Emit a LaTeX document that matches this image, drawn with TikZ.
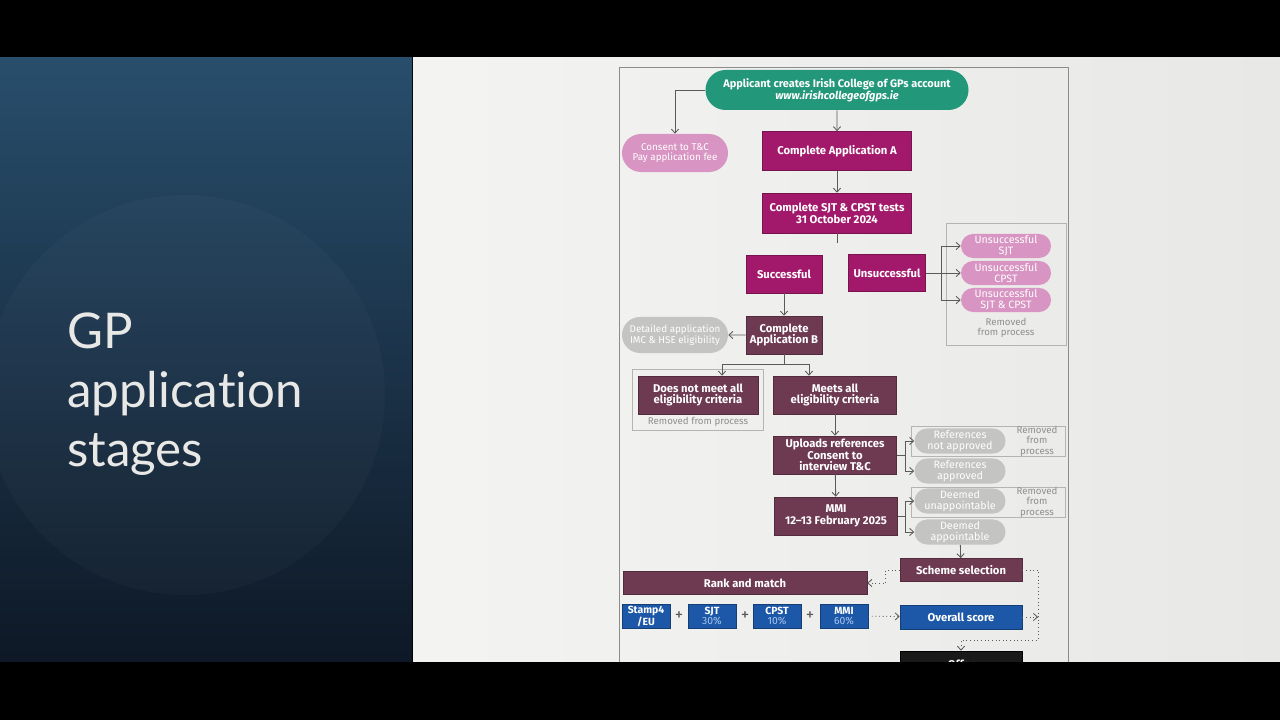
\documentclass[tikz,border=0pt]{standalone}
\usepackage{fontspec}
\setmainfont{Fira Sans}
\newfontfamily\titlefont[Ligatures=NoCommon]{Lato}
\usetikzlibrary{positioning,arrows.meta,shapes.misc}
\definecolor{plum}{HTML}{6E3A52}
\definecolor{magbox}{HTML}{A2196B}
\definecolor{pinkpill}{HTML}{D894C2}
\definecolor{greypill}{HTML}{C4C4C2}
\definecolor{tealpill}{HTML}{22977A}
\definecolor{bluebox}{HTML}{1D58A8}
\definecolor{paleblue}{HTML}{A8C6EE}
\definecolor{linegrey}{HTML}{5A5A5A}
\definecolor{framegrey}{HTML}{B4B4B2}
\definecolor{removedgrey}{HTML}{8E8E8C}
\definecolor{screen}{HTML}{E8E8E6}

\begin{document}
\begin{tikzpicture}[x=0.025cm,y=-0.025cm,
box/.style={draw=magbox!75!black,fill=magbox,text=white,align=center,inner sep=0pt,
font=\fontsize{8}{8.4}\selectfont\bfseries,minimum width=3.725cm,minimum height=0.975cm},
plumbox/.style={box,draw=plum!75!black,fill=plum},
pill/.style={rounded rectangle,fill=pinkpill,text=white,align=center,inner sep=0pt,
font=\fontsize{7.6}{7.8}\selectfont,minimum width=2.25cm,minimum height=0.6cm},
greypill/.style={pill,fill=greypill},
bluebox/.style={box,draw=bluebox!70!black,fill=bluebox,minimum width=1.19cm,minimum height=0.6cm,
font=\fontsize{7.4}{7.6}\selectfont\bfseries},
removed/.style={text=removedgrey,align=center,font=\fontsize{6.9}{7.4}\selectfont},
frame/.style={draw=framegrey,line width=0.5pt},
flow/.style={-{Straight Barb[length=1mm,width=1.8mm]},draw=linegrey,line width=0.6pt},
dotflow/.style={flow,dotted}]
% screen and slide
\useasboundingbox (0,0) rectangle (1280,720);
\fill[black] (0,0) rectangle (1280,720);
\shade[top color={rgb,255:red,40;green,78;blue,108},middle color={rgb,255:red,28;green,86;blue,132},
bottom color={rgb,255:red,14;green,24;blue,38}] (0,58) rectangle (412,662);
\fill[white,opacity=0.025] (185,395) circle (200);
\shade[left color=screen!50!white,right color=screen] (413,58) rectangle (1280,662);
\node[anchor=north west,inner sep=0pt,align=left,text={rgb,255:red,232;green,232;blue,230},
font=\titlefont\fontsize{35}{41.8}\selectfont] (title) at (67,313) {GP\\application\\stages};
\draw[draw=black!45,line width=0.6pt] (619,67) rectangle (1068,680);

% top of the chart
\node[pill,fill=tealpill,minimum width=6.575cm,minimum height=1cm,font=\fontsize{7.8}{8.6}\selectfont\bfseries]
  (account) at (837,90) {Applicant creates Irish College of GPs account\\\itshape www.irishcollegeofgps.ie};
\node[pill,minimum width=2.65cm,minimum height=0.95cm,font=\fontsize{7}{7.6}\selectfont] (consent) at (675,153) {Consent to T\&C\\Pay application fee};
\node[box] (appA) at (837,151) {Complete Application A};
\node[box,minimum height=1cm] (tests) at (837,213) {Complete SJT \& CPST tests\\31 October 2024};
\coordinate (split) at (837,243);
\node[box,minimum width=1.9cm,minimum height=0.95cm] (success) at (784,274) {Successful};
\node[box,minimum width=1.925cm,minimum height=0.925cm] (unsucc) at (887,273) {Unsuccessful};

% removed after the tests
\draw[frame] (946,223) rectangle (1066,345);
\node[pill] (usjt) at (1006,246) {Unsuccessful\\SJT};
\node[pill] (ucpst) at (1006,273) {Unsuccessful\\CPST};
\node[pill] (uboth) at (1006,300) {Unsuccessful\\SJT \& CPST};
\node[removed] (rm1) at (1006,328) {Removed\\from process};
\coordinate (ubranch) at (941,273);

% application B
\node[plumbox,minimum width=1.9cm,minimum height=0.95cm] (appB) at (784,335) {Complete\\Application B};
\node[greypill,minimum width=2.65cm,minimum height=0.9cm,font=\fontsize{7}{7.6}\selectfont] (detail) at (675,335) {Detailed application\\IMC \& HSE eligibility};
\coordinate (bsplit) at (784,364);
\draw[frame] (632,369) rectangle (763,430);
\node[plumbox,minimum width=3cm,minimum height=0.95cm] (nomeet) at (698,395) {Does not meet all\\eligibility criteria};
\node[removed] (rm2) at (698,422) {Removed from process};
\node[plumbox,minimum width=3.075cm,minimum height=0.95cm] (meets) at (835,395) {Meets all\\eligibility criteria};
\node[plumbox,minimum width=3.075cm,minimum height=0.95cm] (uploads) at (835,455) {Uploads references\\Consent to\\interview T\&C};
\node[plumbox,minimum width=3.075cm,minimum height=0.95cm] (mmi) at (836,516) {MMI\\12--13 February 2025};

% references and interview outcomes
\draw[frame] (911,426) rectangle (1065,456);
\node[greypill,minimum width=2.275cm,minimum height=0.625cm] (refno) at (960,441) {References\\not approved};
\node[removed] (rm3) at (1037,441) {Removed\\from\\process};
\node[greypill,minimum width=2.275cm,minimum height=0.625cm] (refok) at (960,471) {References\\approved};
\coordinate (rbranch) at (905,455);
\draw[frame] (911,487) rectangle (1065,517);
\node[greypill,minimum width=2.275cm,minimum height=0.625cm] (unapp) at (960,501) {Deemed\\unappointable};
\node[removed] (rm4) at (1037,502) {Removed\\from\\process};
\node[greypill,minimum width=2.275cm,minimum height=0.625cm] (appt) at (960,532) {Deemed\\appointable};
\coordinate (mbranch) at (905,516);

% scoring
\node[plumbox,minimum width=3.05cm,minimum height=0.575cm] (scheme) at (961,570) {Scheme selection};
\node[plumbox,minimum width=6.1cm,minimum height=0.575cm] (rank) at (745,583) {Rank and match};
\node[bluebox] (stamp) at (646,616) {Stamp4\\/EU};
\node[bluebox] (sjt) at (712,616) {SJT\\\mdseries\color{paleblue}30\%};
\node[bluebox] (cpst) at (777,616) {CPST\\\mdseries\color{paleblue}10\%};
\node[bluebox] (mmib) at (844,616) {MMI\\\mdseries\color{paleblue}60\%};
\foreach \x/\n in {679/1,745/2,810/3}
  \node[text=linegrey,font=\fontsize{12}{12}\selectfont] (plus\n) at (\x,616) {+};
\node[bluebox,minimum width=3.05cm,minimum height=0.6cm,font=\fontsize{8}{8}\selectfont\bfseries] (overall) at (961,617) {Overall score};
\coordinate (dropx) at (1038,617);
\node[box,draw=black,fill=black!90,minimum width=3.05cm,minimum height=0.65cm] (offer) at (961,664) {Offer};

% connectors
\draw[flow] (account.west) -| (consent.north);
\draw[flow] (account) -- (appA);
\draw[flow] (appA) -- (tests);
\draw[draw=linegrey,line width=0.6pt] (tests.south) -- (split);
\draw[draw=linegrey,line width=0.6pt] (unsucc.east) -- (ubranch);
\draw[flow] (ubranch) |- (usjt);
\draw[flow] (ubranch) -- (ucpst);
\draw[flow] (ubranch) |- (uboth);
\draw[flow] (success) -- (appB);
\draw[flow] (appB) -- (detail);
\draw[draw=linegrey,line width=0.6pt] (appB.south) -- (bsplit);
\draw[flow] (bsplit) -| ([xshift=0.6cm]nomeet.north);
\draw[flow] (bsplit) -| ([xshift=-0.65cm]meets.north);
\draw[flow] (meets) -- (uploads);
\draw[flow] (uploads) -- (mmi);
\draw[draw=linegrey,line width=0.6pt] (uploads.east) -- (rbranch);
\draw[flow] (rbranch) |- (refno);
\draw[flow] (rbranch) |- (refok);
\draw[draw=linegrey,line width=0.6pt] (mmi.east) -- (mbranch);
\draw[flow] (mbranch) |- (unapp);
\draw[flow] (mbranch) |- (appt);
\draw[flow] (appt) -- (scheme);
\draw[dotflow] (scheme.west) -- ++(-14,0) |- (rank.east);
\draw[dotflow] (scheme.east) -- ++(16,0) -- ++(0,70) -| (offer.north);
\draw[dotflow] (mmib) -- (overall);
\draw[dotflow] (overall.east) -- (dropx);

% bottom of the video frame
\fill[black] (0,662) rectangle (1280,720);
\end{tikzpicture}
\end{document}
